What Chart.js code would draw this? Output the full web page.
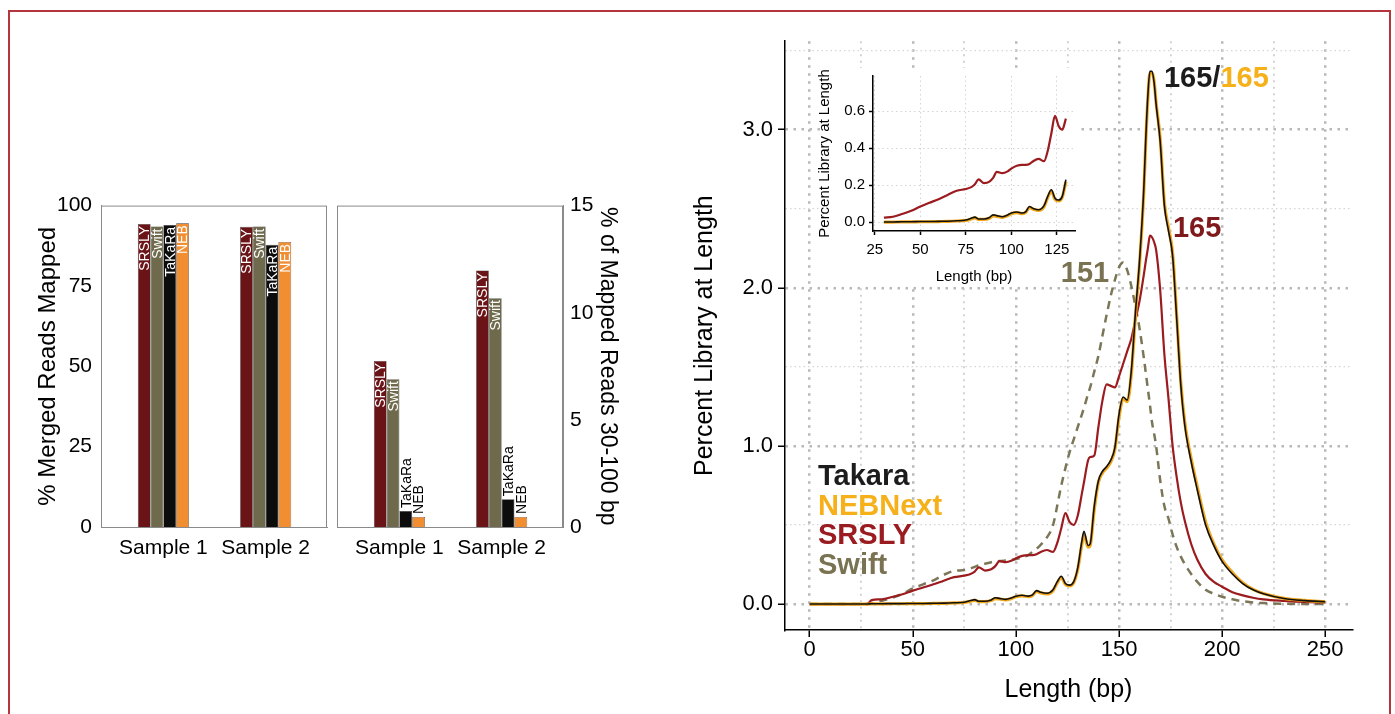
<!DOCTYPE html>
<html>
<head>
<meta charset="utf-8">
<script src="https://cdn.jsdelivr.net/npm/chart.js@4.4.1/dist/chart.umd.min.js"></script>
<style>
  body { margin: 0; background: #fff; width: 1395px; height: 714px; overflow: hidden; position: relative; }
  #frame { position: absolute; left: 8px; top: 10px; width: 1383px; height: 720px; border: 2px solid #b5353d; box-sizing: border-box; }
  canvas { position: absolute; }
</style>
</head>
<body>
<div id="frame"></div>
<canvas id="mappedChart" width="315" height="386" style="left:20px;top:184px"></canvas>
<canvas id="shortChart" width="310" height="384" style="left:330px;top:186px"></canvas>
<canvas id="lengthChart" width="700" height="691" style="left:680px;top:23px"></canvas>
<canvas id="insetChart" width="265" height="223" style="left:815px;top:63px;z-index:2"></canvas>
<script>
// ---- bar panels ----
const samples = ['Sample 1', 'Sample 2'];
const kits = ['SRSLY', 'Swift', 'TaKaRa', 'NEB'];
const kitColors = ['#6b1418', '#6f6a4b', '#0c0c0c', '#f28e32'];

// % merged reads mapped
const mappedSRSLY = [94.3, 93.4];
const mappedSwift = [93.5, 93.5];
const mappedTakara = [94.0, 87.8];
const mappedNEB = [94.5, 88.7];

// % of mapped reads 30-100 bp
const shortSRSLY = [7.75, 11.97];
const shortSwift = [6.9, 10.68];
const shortTakara = [0.75, 1.3];
const shortNEB = [0.47, 0.47];

// ---- length distribution ----
const lengths = [0, 10, 20, 28, 30, 35, 40, 45, 50, 55, 60, 65, 70, 75, 78, 80, 82, 85, 88, 90,
  92, 95, 98, 100, 103, 106, 108, 110, 112, 115, 118, 120, 122, 124, 126, 128, 130, 132, 133, 135,
  136, 138, 140, 142, 144, 146, 148, 150, 152, 154, 156, 158, 160, 162, 163, 164, 165, 166, 167, 168,
  170, 172, 174, 176, 178, 180, 182, 185, 188, 192, 196, 200, 205, 210, 215, 220, 230, 240, 250];

const takara = [0, 0, 0, 0, 0.002, 0.002, 0.003, 0.003, 0.004, 0.004, 0.005, 0.006, 0.008, 0.012, 0.022, 0.028, 0.018, 0.018, 0.026, 0.04,
  0.036, 0.03, 0.04, 0.05, 0.056, 0.05, 0.058, 0.085, 0.075, 0.068, 0.09, 0.14, 0.176, 0.13, 0.12, 0.14, 0.23, 0.40, 0.46, 0.37,
  0.38, 0.62, 0.78, 0.84, 0.87, 0.91, 0.99, 1.2, 1.31, 1.29, 1.48, 1.85, 2.18, 2.62, 2.95, 3.22, 3.37, 3.37, 3.30, 3.16,
  2.92, 2.52, 2.36, 2.2, 1.8, 1.38, 1.12, 0.9, 0.72, 0.5, 0.37, 0.27, 0.19, 0.13, 0.09, 0.065, 0.035, 0.022, 0.015];

const nebnext = [0, 0, 0, 0, 0.001, 0.001, 0.002, 0.002, 0.003, 0.003, 0.004, 0.005, 0.007, 0.01, 0.018, 0.024, 0.016, 0.016, 0.022, 0.035,
  0.032, 0.027, 0.036, 0.046, 0.052, 0.047, 0.054, 0.08, 0.071, 0.064, 0.085, 0.133, 0.168, 0.124, 0.115, 0.135, 0.22, 0.38, 0.44, 0.36,
  0.37, 0.6, 0.77, 0.83, 0.86, 0.9, 0.98, 1.18, 1.30, 1.28, 1.46, 1.83, 2.16, 2.6, 2.93, 3.2, 3.36, 3.36, 3.31, 3.17,
  2.94, 2.54, 2.38, 2.22, 1.82, 1.4, 1.14, 0.92, 0.74, 0.52, 0.38, 0.28, 0.2, 0.135, 0.093, 0.067, 0.036, 0.023, 0.015];

const srsly = [0, 0, 0, 0.002, 0.025, 0.03, 0.045, 0.062, 0.085, 0.105, 0.125, 0.148, 0.17, 0.18, 0.19, 0.205, 0.232, 0.212, 0.22, 0.24,
  0.272, 0.265, 0.275, 0.29, 0.305, 0.31, 0.31, 0.315, 0.33, 0.342, 0.33, 0.385, 0.48, 0.575, 0.52, 0.50, 0.56, 0.70, 0.77, 0.91,
  0.93, 0.94, 1.12, 1.29, 1.39, 1.38, 1.37, 1.44, 1.52, 1.60, 1.68, 1.80, 1.92, 2.08, 2.17, 2.25, 2.33, 2.32, 2.29, 2.24,
  1.98, 1.58, 1.3, 1.0, 0.8, 0.64, 0.52, 0.38, 0.28, 0.19, 0.14, 0.11, 0.075, 0.055, 0.04, 0.03, 0.02, 0.013, 0.01];

const swift = [0, 0, 0, 0, 0.005, 0.02, 0.04, 0.065, 0.1, 0.125, 0.15, 0.185, 0.21, 0.215, 0.225, 0.235, 0.245, 0.255, 0.265, 0.27,
  0.272, 0.275, 0.28, 0.285, 0.295, 0.31, 0.33, 0.35, 0.375, 0.42, 0.5, 0.62, 0.75, 0.86, 0.96, 1.04, 1.12, 1.2, 1.24, 1.33,
  1.37, 1.47, 1.57, 1.70, 1.83, 1.95, 2.05, 2.13, 2.16, 2.11, 2.01, 1.88, 1.74, 1.56, 1.46, 1.36, 1.26, 1.15, 1.08, 1.0,
  0.78, 0.62, 0.54, 0.44, 0.36, 0.3, 0.25, 0.19, 0.14, 0.09, 0.065, 0.046, 0.03, 0.018, 0.01, 0.006, 0.002, 0, 0];

// modal lengths printed next to each peak
const peakTakara = 165;
const peakNEBNext = 165;
const peakSRSLY = 165;
const peakSwift = 151;

const lengthTicks = [0, 25, 50, 75, 100, 125, 150, 175, 200, 225, 250];
const pctTicks = [0, 0.5, 1, 1.5, 2, 2.5, 3, 3.5];
const insetLengthTicks = [25, 50, 75, 100, 125];
const insetPctTicks = [0, 0.2, 0.4, 0.6];

const legendNames = ['Takara', 'NEBNext', 'SRSLY', 'Swift'];
const legendColors = ['#1c1c1c', '#f5b01a', '#9a1c20', '#7a7352'];

const FONT = '"Liberation Sans", Arial, Helvetica, sans-serif';
Chart.defaults.font.family = FONT;
Chart.defaults.color = '#000';

const barLabels = {
  id: 'barLabels',
  afterDatasetsDraw(chart) {
    const ctx = chart.ctx;
    ctx.save();
    ctx.font = '14px ' + FONT;
    ctx.textBaseline = 'middle';
    chart.data.datasets.forEach((ds, i) => {
      chart.getDatasetMeta(i).data.forEach(bar => {
        const w = ctx.measureText(ds.label).width;
        const inside = bar.base - bar.y > w + 6;
        ctx.save();
        ctx.translate(bar.x, bar.y);
        ctx.rotate(-Math.PI / 2);
        ctx.fillStyle = inside ? '#fff' : '#000';
        ctx.textAlign = inside ? 'right' : 'left';
        ctx.fillText(ds.label, inside ? -2 : 3, 1);
        ctx.restore();
      });
    });
    ctx.restore();
  }
};

const panelBox = {
  id: 'panelBox',
  afterDraw(chart) {
    const a = chart.chartArea, ctx = chart.ctx;
    ctx.save();
    ctx.strokeStyle = '#8a8a8a';
    ctx.lineWidth = 1;
    ctx.strokeRect(a.left + 0.5, a.top + 0.5, a.right - a.left - 1, a.bottom - a.top);
    ctx.restore();
  }
};

function barSets(series) {
  return series.map((vals, i) => ({
    label: kits[i],
    data: vals.map((v, j) => ({ x: j + 1, y: v })),
    backgroundColor: kitColors[i],
    borderColor: '#3a3a3a',
    borderWidth: 0.6,
    categoryPercentage: 0.5,
    barPercentage: 1.0
  }));
}

function sampleAxis() {
  return {
    type: 'linear', min: 0.39, max: 2.6, offset: false,
    afterBuildTicks: s => { s.ticks = samples.map((n, i) => ({ value: i + 1 })); },
    afterFit: s => { s.height = 43; },
    grid: { display: false, drawTicks: false, offset: false },
    border: { display: true, color: '#8a8a8a' },
    ticks: { callback: v => samples[v - 1], font: { size: 21 }, padding: 9, maxRotation: 0, autoSkip: false }
  };
}

new Chart(document.getElementById('mappedChart'), {
  type: 'bar',
  data: { datasets: barSets([mappedSRSLY, mappedSwift, mappedTakara, mappedNEB]) },
  options: {
    responsive: false, animation: false, events: [],
    layout: { padding: { top: 0, right: 8, left: 0, bottom: 0 } },
    plugins: { legend: { display: false }, tooltip: { enabled: false } },
    scales: {
      x: sampleAxis(),
      y: {
        min: 0, max: 100,
        afterFit: s => { s.width = 81; },
        grid: { display: false, drawTicks: false },
        border: { display: true, color: '#8a8a8a' },
        ticks: { stepSize: 25, font: { size: 21 }, padding: 9 },
        title: { display: true, text: '% Merged Reads Mapped', font: { size: 24 }, padding: { top: 14, bottom: 0 } }
      }
    }
  },
  plugins: [barLabels, panelBox]
});

new Chart(document.getElementById('shortChart'), {
  type: 'bar',
  data: { datasets: barSets([shortSRSLY, shortSwift, shortTakara, shortNEB]) },
  options: {
    responsive: false, animation: false, events: [],
    layout: { padding: { top: 0, right: 0, left: 7, bottom: 0 } },
    plugins: { legend: { display: false }, tooltip: { enabled: false } },
    scales: {
      x: sampleAxis(),
      y: {
        position: 'right',
        min: 0, max: 15,
        afterFit: s => { s.width = 77; },
        grid: { display: false, drawTicks: false },
        border: { display: true, color: '#8a8a8a' },
        ticks: { stepSize: 5, font: { size: 21 }, padding: 7 },
        title: { display: true, text: '% of Mapped Reads 30-100 bp', font: { size: 23 }, padding: { top: 19, bottom: 0 } }
      }
    }
  },
  plugins: [barLabels, panelBox]
});

// ---- length distribution, main panel ----
function pts(vals) {
  return lengths.map((x, i) => ({ x: x, y: vals[i] }));
}
function insetPts(vals) {
  return pts(vals).filter(p => p.x >= 30 && p.x <= 130);
}

const isMajorX = c => c.tick && c.tick.value % 50 === 0;
const isMajorY = c => c.tick && Number.isInteger(c.tick.value);

const lengthOverlay = {
  id: 'lengthOverlay',
  beforeDatasetsDraw(chart) {
    // white panel behind the inset
    const ctx = chart.ctx;
    ctx.save();
    ctx.fillStyle = '#fff';
    ctx.fillRect(140, 45, 258, 216);
    ctx.restore();
  },
  afterDraw(chart) {
    const ctx = chart.ctx, xs = chart.scales.x, ys = chart.scales.y, a = chart.chartArea;
    ctx.save();
    ctx.textBaseline = 'middle';
    ctx.font = 'bold 29px ' + FONT;
    // legend
    legendNames.forEach((n, i) => {
      ctx.fillStyle = legendColors[i];
      ctx.textAlign = 'left';
      ctx.fillText(n, a.left + 33, a.bottom - 153 + i * 29.5);
    });
    // peak labels, placed beside each curve's maximum
    const top = vals => vals.indexOf(Math.max(...vals));
    let k = top(takara);
    const px = xs.getPixelForValue(lengths[k]) + 14, py = ys.getPixelForValue(takara[k]) + 8;
    ctx.textAlign = 'left';
    ctx.fillStyle = legendColors[0];
    ctx.fillText(peakTakara + '/', px, py);
    const w = ctx.measureText(peakTakara + '/').width;
    ctx.fillStyle = legendColors[1];
    ctx.fillText(String(peakNEBNext), px + w, py);

    k = top(srsly);
    ctx.fillStyle = '#7f1a1c';
    ctx.fillText(String(peakSRSLY), xs.getPixelForValue(lengths[k]) + 23, ys.getPixelForValue(srsly[k]) - 7);

    k = top(swift);
    ctx.fillStyle = legendColors[3];
    ctx.textAlign = 'right';
    ctx.fillText(String(peakSwift), xs.getPixelForValue(lengths[k]) - 14, ys.getPixelForValue(swift[k]) + 11);
    ctx.restore();
  }
};

new Chart(document.getElementById('lengthChart'), {
  type: 'line',
  data: {
    datasets: [
      { label: 'Takara', data: pts(takara), borderColor: '#111', borderWidth: 1.6, order: 0 },
      { label: 'NEBNext', data: pts(nebnext), borderColor: '#f2a81d', borderWidth: 3.2, order: 1 },
      { label: 'SRSLY', data: pts(srsly), borderColor: '#9b1b1f', borderWidth: 2.2, order: 2 },
      { label: 'Swift', data: pts(swift), borderColor: '#7b7657', borderWidth: 2.5, borderDash: [8, 6], order: 3 }
    ]
  },
  options: {
    responsive: false, animation: false, events: [],
    layout: { padding: { top: 0, right: 28, left: 0, bottom: 0 } },
    elements: { point: { radius: 0 }, line: { cubicInterpolationMode: 'monotone', fill: false } },
    plugins: { legend: { display: false }, tooltip: { enabled: false } },
    scales: {
      x: {
        type: 'linear', min: -12, max: 263,
        afterBuildTicks: s => { s.ticks = lengthTicks.map(v => ({ value: v })); },
        afterFit: s => { s.height = 84; },
        grid: {
          color: c => isMajorX(c) ? '#b9b9b9' : '#cfcfcf',
          lineWidth: c => isMajorX(c) ? 2.5 : 1.8,
          tickColor: c => isMajorX(c) ? '#000' : 'rgba(0,0,0,0)',
          tickLength: 7, tickWidth: 1.5, tickBorderDash: []
        },
        border: { display: true, color: '#000', width: 1.5, dash: c => isMajorX(c) ? [2.5, 5.5] : [2, 4.5] },
        ticks: { callback: v => v % 50 === 0 ? v : '', font: { size: 22 }, padding: 0, maxRotation: 0, autoSkip: false },
        title: { display: true, text: 'Length (bp)', font: { size: 25 }, padding: { top: 0, bottom: 9 } }
      },
      y: {
        min: -0.164, max: 3.56,
        afterBuildTicks: s => { s.ticks = pctTicks.map(v => ({ value: v })); },
        afterFit: s => { s.width = 105; },
        grid: {
          color: c => isMajorY(c) ? '#b9b9b9' : '#d6d6d6',
          lineWidth: c => isMajorY(c) ? 2.5 : 1.2,
          tickColor: c => isMajorY(c) ? '#000' : 'rgba(0,0,0,0)',
          tickLength: 7, tickWidth: 1.5, tickBorderDash: []
        },
        border: { display: true, color: '#000', width: 1.5, dash: c => isMajorY(c) ? [2.5, 5.5] : [1.5, 3] },
        ticks: { callback: v => Number.isInteger(v) ? v.toFixed(1) : '', font: { size: 22 }, padding: 5, autoSkip: false },
        title: { display: true, text: 'Percent Library at Length', font: { size: 25 }, padding: { top: 10, bottom: 0 } }
      }
    }
  },
  plugins: [lengthOverlay]
});

// ---- inset: 25-130 bp ----
new Chart(document.getElementById('insetChart'), {
  type: 'line',
  data: {
    datasets: [
      { label: 'Takara', data: insetPts(takara), borderColor: '#111', borderWidth: 1.6, order: 0 },
      { label: 'NEBNext', data: insetPts(nebnext), borderColor: '#f2a81d', borderWidth: 3.2, order: 1 },
      { label: 'SRSLY', data: insetPts(srsly), borderColor: '#9b1b1f', borderWidth: 2.2, order: 2 }
    ]
  },
  options: {
    responsive: false, animation: false, events: [],
    layout: { padding: { top: 0, right: 5, left: 0, bottom: 0 } },
    elements: { point: { radius: 0 }, line: { cubicInterpolationMode: 'monotone', fill: false } },
    plugins: { legend: { display: false }, tooltip: { enabled: false } },
    scales: {
      x: {
        type: 'linear', min: 24, max: 135,
        afterBuildTicks: s => { s.ticks = insetLengthTicks.map(v => ({ value: v })); },
        afterFit: s => { s.height = 55; },
        grid: { color: '#d4d4d4', lineWidth: 1, tickColor: '#000', tickLength: 4, tickWidth: 1.5, tickBorderDash: [] },
        border: { display: true, color: '#000', width: 1.5, dash: [1.5, 3] },
        ticks: { font: { size: 15 }, padding: 6, maxRotation: 0, autoSkip: false },
        title: { display: true, text: 'Length (bp)', font: { size: 15 }, padding: { top: 0, bottom: 0 } }
      },
      y: {
        min: -0.047, max: 0.79,
        afterBuildTicks: s => { s.ticks = insetPctTicks.map(v => ({ value: v })); },
        afterFit: s => { s.width = 58; },
        grid: { color: '#d4d4d4', lineWidth: 1, tickColor: '#000', tickLength: 4, tickWidth: 1.5, tickBorderDash: [] },
        border: { display: true, color: '#000', width: 1.5, dash: [1.5, 3] },
        ticks: { callback: v => v.toFixed(1), font: { size: 15 }, padding: 4, autoSkip: false },
        title: { display: true, text: 'Percent Library at Length', font: { size: 15 }, padding: { top: 1, bottom: 0 } }
      }
    }
  }
});
</script>
</body>
</html>
